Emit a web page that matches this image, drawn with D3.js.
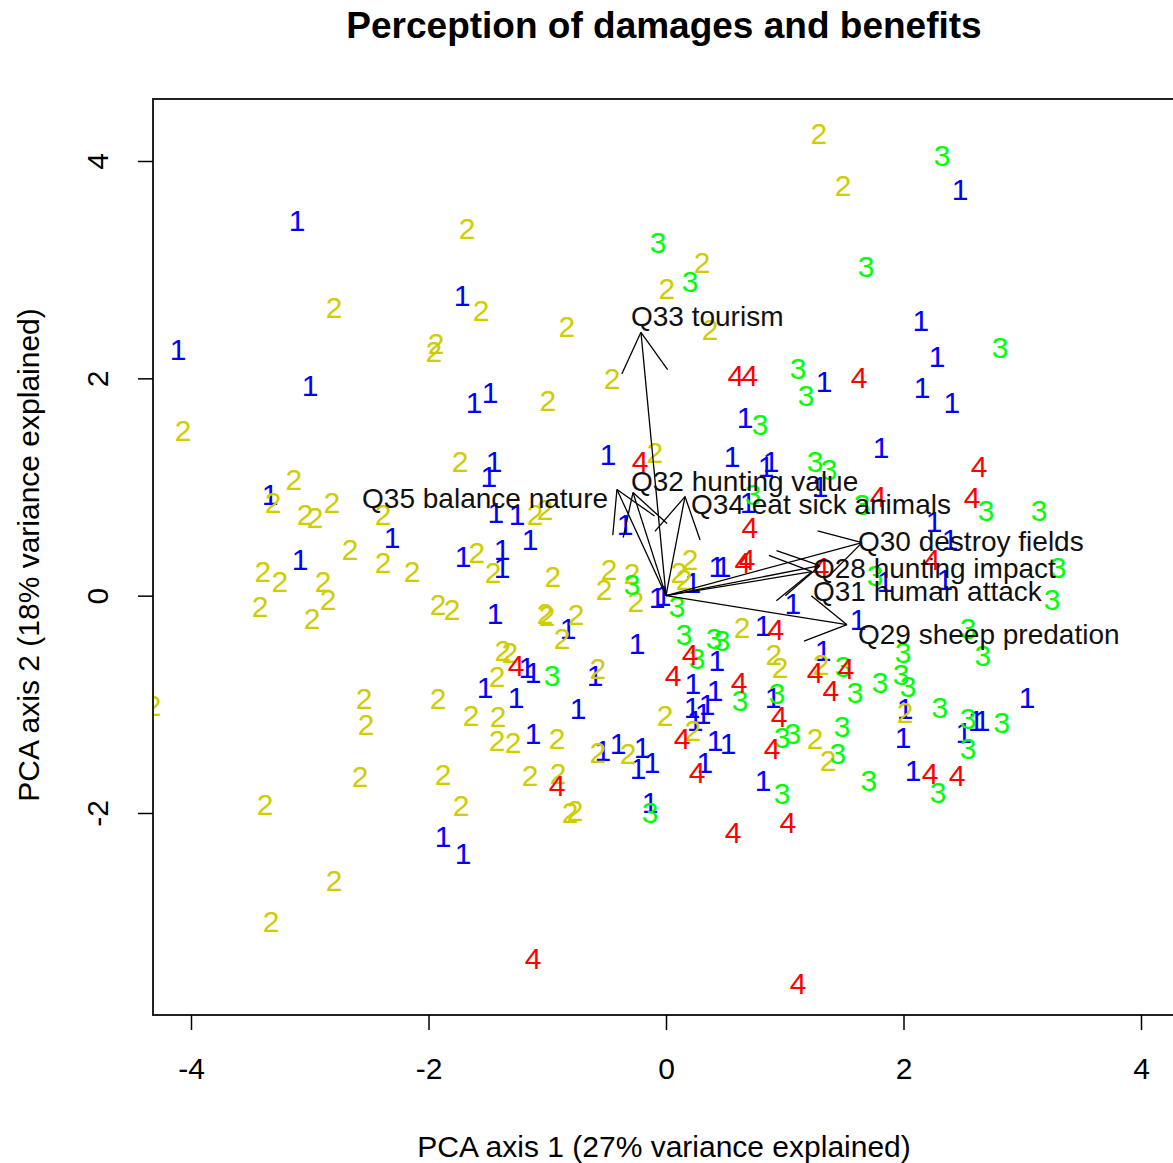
<!DOCTYPE html>
<html><head><meta charset="utf-8">
<script src="https://cdn.jsdelivr.net/npm/d3@7"></script>
<style>body{margin:0;background:#fff} text{font-family:"Liberation Sans",Arial,sans-serif}</style>
</head><body><svg id="chart" width="1173" height="1163"></svg>
<script>
// ---- data (PCA scores by group) ----
const groupNames = ["1","2","3","4"];
const g1x = [-3.107,-1.718,-4.109,-2.998,-1.617,-1.482,2.476,2.147,2.282,1.331,2.156,2.408,0.665,-1.448,-1.491,-3.335,-1.432,-1.255,-2.307,-3.082,-1.709,-1.381,-1.145,-1.381,-1.440,-0.488,0.556,0.842,0.884,1.811,1.297,0.691,-0.345,2.257,2.392,1.844,2.349,-0.076,-0.025,0.227,0.429,0.480,1.069,-0.825,-0.244,0.817,1.617,0.429,1.322,-1.171,-1.120,-0.598,-1.524,-1.263,-0.741,0.227,0.219,0.345,0.413,0.901,3.040,2.013,1.996,2.509,2.611,2.661,-1.120,-0.531,-0.404,-0.202,-0.236,-0.118,0.244,0.312,0.413,0.522,0.328,-0.135,0.817,2.080,-1.878,-1.709];
const g1y = [3.456,2.765,2.267,1.936,1.779,1.871,3.742,2.535,2.203,1.972,1.917,1.779,1.641,1.235,1.097,0.931,0.765,0.747,0.535,0.332,0.359,0.424,0.516,0.258,-0.157,1.300,1.281,1.189,1.235,1.364,1.005,0.857,0.654,0.682,0.516,0.129,0.147,-0.018,0.000,0.120,0.267,0.267,-0.065,-0.295,-0.433,-0.276,-0.221,-0.590,-0.498,-0.654,-0.700,-0.728,-0.839,-0.931,-1.032,-0.802,-1.023,-0.995,-0.866,-0.931,-0.931,-1.032,-1.300,-1.253,-1.143,-1.143,-1.263,-1.419,-1.355,-1.392,-1.585,-1.530,-1.143,-1.078,-1.327,-1.355,-1.530,-1.899,-1.696,-1.604,-2.212,-2.369];
const g2x = [1.288,1.491,-1.676,0.303,0.008,-2.796,-1.558,-0.834,0.371,-1.937,-1.954,-0.455,-0.994,-4.067,-1.735,-0.093,-3.133,-3.309,-2.813,-3.040,-2.956,-2.383,-1.103,-1.019,-2.661,-1.592,-2.383,-2.139,-3.394,-3.251,-2.888,-2.846,-3.419,-2.981,-1.920,-1.802,-1.457,-0.952,-0.480,-0.522,-0.286,-0.253,0.202,0.109,0.152,-1.019,-1.002,-0.758,-0.876,0.640,-1.373,-1.314,-1.423,-0.573,0.909,0.960,1.305,-2.543,-2.526,-1.920,-4.320,-1.642,-1.415,-0.008,-1.423,-1.288,-0.918,-0.573,-0.320,0.227,1.255,1.364,2.013,-2.577,-1.878,-1.145,-0.909,-3.377,-1.726,-0.808,-0.766,-2.796,-3.326];
const g2y = [4.258,3.779,3.383,3.069,2.830,2.654,2.627,2.479,2.452,2.323,2.249,2.000,1.797,1.521,1.235,1.318,1.069,0.857,0.857,0.747,0.719,0.747,0.747,0.793,0.424,0.396,0.304,0.221,0.221,0.129,0.129,-0.037,-0.101,-0.203,-0.083,-0.129,0.212,0.175,0.240,0.055,0.203,-0.055,0.332,0.212,0.147,-0.157,-0.184,-0.166,-0.387,-0.286,-0.498,-0.516,-0.737,-0.664,-0.535,-0.654,-0.627,-0.940,-1.180,-0.940,-1.005,-1.097,-1.106,-1.097,-1.327,-1.346,-1.309,-1.438,-1.447,-1.235,-1.309,-1.512,-1.069,-1.659,-1.641,-1.650,-1.631,-1.917,-1.926,-1.991,-1.972,-2.618,-2.995];
const g3x = [2.324,-0.067,0.202,1.684,2.813,1.112,1.179,0.792,1.255,1.373,0.733,1.651,2.695,3.141,3.301,1.760,3.251,-0.286,0.093,2.543,0.152,0.404,0.472,0.261,1.996,2.669,1.491,1.802,1.979,2.038,1.592,-0.960,0.623,0.935,2.307,2.543,2.829,1.482,0.977,1.069,1.448,2.543,1.709,0.977,2.291,-0.135];
const g3y = [4.055,3.253,2.894,3.032,2.286,2.092,1.843,1.576,1.235,1.161,0.931,0.839,0.783,0.783,0.258,0.184,-0.037,0.101,-0.101,-0.295,-0.350,-0.387,-0.406,-0.571,-0.516,-0.544,-0.645,-0.793,-0.719,-0.829,-0.885,-0.728,-0.959,-0.894,-1.023,-1.124,-1.161,-1.198,-1.300,-1.263,-1.447,-1.401,-1.696,-1.816,-1.806,-1.991];
const g4x = [0.589,0.707,1.625,-0.219,2.636,1.785,2.577,0.707,0.648,0.682,2.240,0.926,0.202,1.516,1.255,1.389,-1.263,0.059,0.615,0.952,0.135,0.893,-0.918,0.261,2.223,2.451,0.564,1.027,-1.120,1.112,1.305];
const g4y = [2.028,2.028,2.009,1.235,1.189,0.912,0.903,0.627,0.304,0.332,0.332,-0.313,-0.535,-0.664,-0.700,-0.866,-0.636,-0.728,-0.793,-1.106,-1.309,-1.401,-1.742,-1.622,-1.631,-1.650,-2.175,-2.083,-3.336,-3.567,0.258];

// ---- loadings (arrows) ----
const varLabels = ["Q28 hunting impact","Q29 sheep predation","Q30 destroy fields","Q31 human attack","Q32 hunting value","Q33 tourism","Q34 eat sick animals","Q35 balance nature"];
const loadX = [1.297,1.524,1.651,1.229,-0.278,-0.211,0.160,-0.413];
const loadY = [0.276,-0.267,0.488,0.221,0.949,2.424,0.912,0.977];
const labelX = [1.238,1.617,1.617,1.238,-0.295,-0.295,0.211,-0.488];
const labelY = [0.249,-0.350,0.498,0.037,1.051,2.571,0.839,0.894];

const xTicks = [-4,-2,0,2,4];
const yTicks = [-2,0,2,4];
const titleText = "Perception of damages and benefits";
const xTitle = "PCA axis 1 (27% variance explained)";
const yTitle = "PCA axis 2 (18% variance explained)";

// ---- drawing ----
const colors = ["#0000FF","#CDCD00","#00FF00","#FF0000"];
const svg = d3.select("#chart");
const box = {left:153, top:99, right:1200, bottom:1015};
const x = d3.scaleLinear().domain([-4,4]).range([191,1141]);
const y = d3.scaleLinear().domain([-2,4]).range([813,161]);
const fmt = d => String(d);

svg.append("defs").append("clipPath").attr("id","clip")
  .append("rect").attr("x",box.left).attr("y",box.top)
  .attr("width",box.right-box.left).attr("height",box.bottom-box.top);

const plot = svg.append("g").attr("clip-path","url(#clip)");
const series = [[g1x,g1y],[g2x,g2y],[g3x,g3y],[g4x,g4y]];
series.forEach(([xs,ys],gi)=>{
  const pts = xs.map((v,i)=>({x:v,y:ys[i]}));
  plot.append("g").selectAll("text").data(pts).join("text")
    .attr("x",d=>x(d.x)).attr("y",d=>y(d.y)).attr("dy","0.36em")
    .attr("text-anchor","middle").attr("font-size",30)
    .attr("fill",colors[gi]).text(groupNames[gi]);
});

// arrows
const arrows = plot.append("g").attr("stroke","#000").attr("stroke-width",1.3).attr("fill","none");
const headLen = 46, headAng = Math.PI/6;
loadX.forEach((lx,i)=>{
  const x0=x(0), y0=y(0), x1=x(lx), y1=y(loadY[i]);
  arrows.append("line").attr("x1",x0).attr("y1",y0).attr("x2",x1).attr("y2",y1);
  const a = Math.atan2(y0-y1, x0-x1);
  [a+headAng, a-headAng].forEach(t=>{
    arrows.append("line").attr("x1",x1).attr("y1",y1)
      .attr("x2",x1+headLen*Math.cos(t)).attr("y2",y1+headLen*Math.sin(t));
  });
});
plot.append("g").selectAll("text").data(varLabels).join("text")
  .attr("x",(d,i)=>x(labelX[i])).attr("y",(d,i)=>y(labelY[i])).attr("dy","0.35em")
  .attr("text-anchor",(d,i)=>labelX[i]<-0.4?"end":"start")
  .attr("font-size",28).attr("fill","#111").text(d=>d);

// box
svg.append("rect").attr("x",box.left).attr("y",box.top)
  .attr("width",box.right-box.left).attr("height",box.bottom-box.top)
  .attr("fill","none").attr("stroke","#222").attr("stroke-width",2);

// axes
const xa = svg.append("g").attr("transform",`translate(0,${box.bottom})`)
  .call(d3.axisBottom(x).tickValues(xTicks).tickSize(15).tickPadding(28).tickFormat(fmt));
xa.select(".domain").remove();
xa.selectAll("line").attr("stroke","#000").attr("stroke-width",1.5);
xa.selectAll("text").attr("font-size",30).attr("fill","#000").attr("font-family",'"Liberation Sans",Arial,sans-serif');

const ya = svg.append("g").attr("transform",`translate(${box.left},0)`)
  .call(d3.axisLeft(y).tickValues(yTicks).tickSize(15).tickFormat(fmt));
ya.select(".domain").remove();
ya.selectAll("line").attr("stroke","#000").attr("stroke-width",1.5);
ya.selectAll("text").attr("x",null).attr("dy",null)
  .attr("transform","translate(-45,0) rotate(-90)").attr("text-anchor","middle")
  .attr("font-size",30).attr("fill","#000").attr("font-family",'"Liberation Sans",Arial,sans-serif');

// titles
svg.append("text").attr("x",664).attr("y",38).attr("text-anchor","middle")
  .attr("font-size",37).attr("font-weight","bold").text(titleText);
svg.append("text").attr("x",664).attr("y",1157).attr("text-anchor","middle")
  .attr("font-size",30).text(xTitle);
svg.append("text").attr("transform","translate(39,555) rotate(-90)").attr("text-anchor","middle")
  .attr("font-size",30).text(yTitle);
</script></body></html>
